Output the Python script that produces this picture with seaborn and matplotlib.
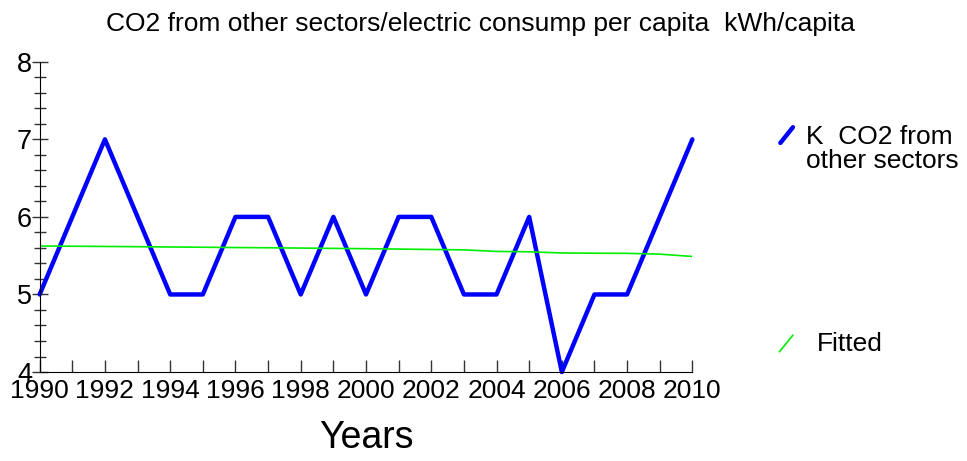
import pandas as pd
import matplotlib.pyplot as plt
import seaborn as sns
from matplotlib.lines import Line2D


years = list(range(1990, 2011))
co2_other = [5, 6, 7, 6, 5, 5, 6, 6, 5, 6, 5, 6, 6, 5, 5, 6, 4, 5, 5, 6, 7]
fitted = [5.625, 5.622, 5.619, 5.616, 5.612, 5.609, 5.605, 5.602, 5.598, 5.594,
          5.590, 5.585, 5.580, 5.575, 5.555, 5.550, 5.535, 5.532, 5.530, 5.520, 5.490]

TITLE = "CO2 from other sectors/electric consump per capita  kWh/capita"


def main():
    sns.set_style("ticks")
    plt.rcParams["font.family"] = ["Liberation Sans", "DejaVu Sans"]
    plt.rcParams["text.color"] = "black"
    plt.rcParams["xtick.labelcolor"] = "black"
    plt.rcParams["ytick.labelcolor"] = "black"

    df = pd.DataFrame({"Year": years, "CO2": co2_other, "Fitted": fitted})

    fig = plt.figure(figsize=(9.67, 4.61), dpi=100)
    ax = fig.add_axes([0.041, 0.193, 0.675, 0.673])

    sns.lineplot(data=df, x="Year", y="CO2", color="#0000ff", linewidth=3.2, ax=ax,
                 clip_on=False)
    sns.lineplot(data=df, x="Year", y="Fitted", color="#00ee00", linewidth=1.2, ax=ax)

    ax.set_xlim(1990, 2010)
    ax.set_ylim(4, 8)
    ax.set_xticks(years)
    ax.set_xticklabels([str(y) if y % 2 == 0 else "" for y in years])
    ax.set_yticks([4, 5, 6, 7, 8])
    ax.set_yticks([4 + 0.2 * i for i in range(21) if i % 5], minor=True)
    sns.despine(ax=ax)
    ax.spines["left"].set_color("black")
    ax.spines["bottom"].set_color("black")

    ax.tick_params(axis="x", direction="in", length=9, width=1, color="#333333",
                   labelsize=19, pad=5)
    ax.tick_params(axis="y", which="major", direction="inout", length=11, width=1,
                   color="#333333", labelsize=19.5, pad=0)
    ax.tick_params(axis="y", which="minor", direction="inout", length=8, width=1,
                   color="#333333")

    ax.set_xlabel("Years", fontsize=27, labelpad=12, color="black")
    ax.set_ylabel("")
    fig.suptitle(TITLE, fontsize=19, x=0.497, y=0.975)

    # legend drawn as short diagonal strokes like the original
    fig.add_artist(Line2D([0.807, 0.82], [0.69, 0.724], color="#0000ff",
                          linewidth=3.2, transform=fig.transFigure))
    fig.text(0.833, 0.677, "K  CO2 from\nother sectors", fontsize=19,
             va="center", ha="left", linespacing=0.98)
    fig.add_artist(Line2D([0.806, 0.82], [0.237, 0.273], color="#00ee00",
                          linewidth=1.2, transform=fig.transFigure))
    fig.text(0.845, 0.253, "Fitted", fontsize=19, va="center", ha="left")

    fig.savefig("out.png", dpi=100)
    plt.close(fig)


if __name__ == "__main__":
    main()
